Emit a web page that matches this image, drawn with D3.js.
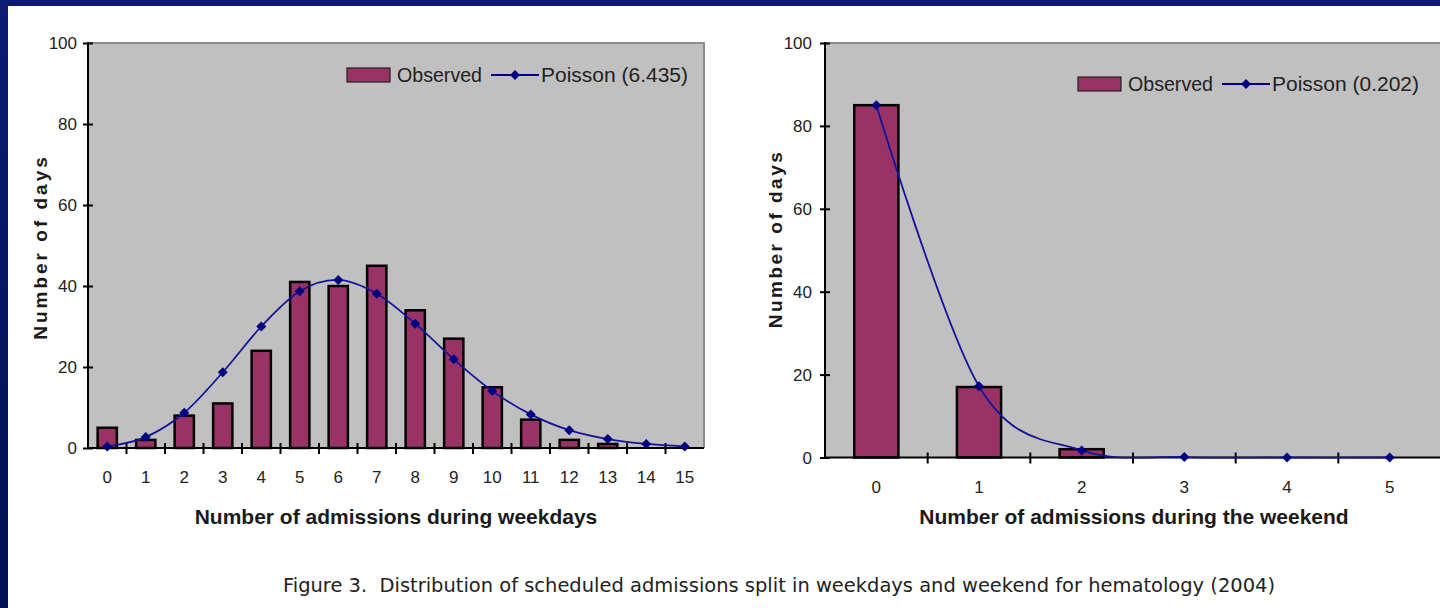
<!DOCTYPE html>
<html>
<head>
<meta charset="utf-8">
<script src="https://cdn.jsdelivr.net/npm/d3@7/dist/d3.min.js"></script>
<style>
  html, body { margin: 0; padding: 0; background: #ffffff; }
  svg { display: block; }
  text { font-family: "Liberation Sans", Arial, sans-serif; }
  text.caption { font-family: "DejaVu Sans", Verdana, sans-serif; white-space: pre; }
</style>
</head>
<body>
<svg id="chart" width="1440" height="608"></svg>
<script>
// Admissions per day: weekdays (0..15) and weekend (0..5)
const weekdayCounts   = [0, 1, 2, 3, 4, 5, 6, 7, 8, 9, 10, 11, 12, 13, 14, 15];
const weekdayObserved = [5, 2, 8, 11, 24, 41, 40, 45, 34, 27, 15, 7, 2, 1, 0, 0];
const weekdayPoisson  = [0.4, 2.7, 8.7, 18.7, 30.0, 38.7, 41.5, 38.1, 30.7, 21.9, 14.1, 8.3, 4.4, 2.2, 1.0, 0.4];

const weekendCounts   = [0, 1, 2, 3, 4, 5];
const weekendObserved = [85, 17, 2, 0, 0, 0];
const weekendPoisson  = [85.0, 17.2, 1.7, 0.1, 0.0, 0.0];

const yTicks = [0, 20, 40, 60, 80, 100];

const svg = d3.select("#chart");

// Navy slide frame
const grad = svg.append("defs").append("linearGradient")
  .attr("id", "frame").attr("x1", 0).attr("y1", 0).attr("x2", 0).attr("y2", 1);
grad.append("stop").attr("offset", "0%").attr("stop-color", "#0c1b74");
grad.append("stop").attr("offset", "100%").attr("stop-color", "#001050");
svg.append("rect").attr("x", 0).attr("y", 0).attr("width", 1440).attr("height", 6).attr("fill", "#0c1b74");
svg.append("rect").attr("x", 0).attr("y", 0).attr("width", 8).attr("height", 608).attr("fill", "url(#frame)");

function drawPanel(cfg) {
  const g = svg.append("g");
  const x = d3.scaleBand().domain(cfg.categories).range([cfg.left, cfg.right]).padding(0);
  const y = d3.scaleLinear().domain([0, 100]).range([cfg.bottom, cfg.top]);
  const plotRight = Math.min(cfg.right, 1440);

  // plot area
  g.append("rect")
    .attr("x", cfg.left).attr("y", cfg.top)
    .attr("width", plotRight - cfg.left).attr("height", cfg.bottom - cfg.top)
    .attr("fill", "#c0c0c0");
  g.append("path")
    .attr("d", `M${cfg.left},${cfg.top}H${plotRight}` + (cfg.right <= 1440 ? `V${cfg.bottom}` : ""))
    .attr("fill", "none").attr("stroke", "#8c8c8c").attr("stroke-width", 2);

  // observed bars
  const bw = x.bandwidth() * cfg.barFrac;
  g.selectAll("rect.bar").data(cfg.observed).join("rect")
    .attr("class", "bar")
    .attr("x", (d, i) => x(cfg.categories[i]) + (x.bandwidth() - bw) / 2)
    .attr("y", d => y(d))
    .attr("width", bw)
    .attr("height", d => y(0) - y(d))
    .attr("fill", "#993366")
    .attr("stroke", "#000").attr("stroke-width", 2.5);

  // y axis
  const yAxis = d3.axisLeft(y).tickValues(yTicks).tickSize(0).tickPadding(0);
  const ya = g.append("g").attr("transform", `translate(${cfg.left},0)`).call(yAxis);
  ya.select(".domain").remove();
  ya.selectAll(".tick text")
    .attr("x", -(cfg.left - cfg.yLabelRight))
    .attr("dy", "0.35em")
    .attr("font-size", 17).attr("fill", "#222");
  ya.selectAll(".tick").append("line")
    .attr("x1", -5).attr("x2", 5).attr("stroke", "#000").attr("stroke-width", 2);
  g.append("line")
    .attr("x1", cfg.left).attr("x2", cfg.left).attr("y1", cfg.top - 1).attr("y2", cfg.bottom + 1)
    .attr("stroke", "#000").attr("stroke-width", 2);

  // x axis
  const xAxis = d3.axisBottom(x).tickSize(0).tickPadding(0);
  const xa = g.append("g").attr("transform", `translate(0,${cfg.bottom})`).call(xAxis);
  xa.select(".domain").remove();
  xa.selectAll(".tick text")
    .attr("y", cfg.xLabelDy).attr("dy", "0.35em")
    .attr("font-size", 17).attr("fill", "#222");
  g.append("line")
    .attr("x1", cfg.left).attr("x2", plotRight).attr("y1", cfg.bottom).attr("y2", cfg.bottom)
    .attr("stroke", "#000").attr("stroke-width", 2);
  g.selectAll("line.xtick").data(cfg.categories.slice(1)).join("line")
    .attr("class", "xtick")
    .attr("x1", d => x(d)).attr("x2", d => x(d))
    .attr("y1", cfg.bottom - 5).attr("y2", cfg.bottom + 6)
    .attr("stroke", "#000").attr("stroke-width", 2);

  // Poisson fit: smoothed line with diamond markers
  const pts = cfg.poisson.map((v, i) => [x(cfg.categories[i]) + x.bandwidth() / 2, y(v)]);
  g.append("path")
    .attr("d", d3.line().curve(d3.curveCardinal.tension(0))(pts))
    .attr("fill", "none").attr("stroke", "#14149a").attr("stroke-width", 1.8);
  const diamond = d3.symbol().type(d3.symbolSquare).size(50)();
  g.selectAll("path.mk").data(pts).join("path")
    .attr("class", "mk")
    .attr("d", diamond)
    .attr("transform", d => `translate(${d[0]},${d[1]}) rotate(45)`)
    .attr("fill", "#000080");

  // axis titles
  g.append("text")
    .attr("x", cfg.xTitleX).attr("y", cfg.xTitleY)
    .attr("text-anchor", "middle")
    .attr("font-size", 21).attr("font-weight", "bold").attr("fill", "#1a1a1a")
    .text(cfg.xTitle);
  g.append("text")
    .attr("transform", `translate(${cfg.yTitleX},${cfg.yTitleY}) rotate(-90)`)
    .attr("text-anchor", "middle")
    .attr("font-size", 19).attr("font-weight", "bold").attr("fill", "#1a1a1a")
    .attr("letter-spacing", cfg.yTitleSpacing)
    .text("Number of days");

  // legend
  const L = cfg.legend;
  g.append("rect")
    .attr("x", L.x).attr("y", L.y - 7).attr("width", 43).attr("height", 14)
    .attr("fill", "#993366").attr("stroke", "#222").attr("stroke-width", 1.2);
  g.append("text")
    .attr("x", L.x + 50).attr("y", L.y).attr("dy", "0.35em")
    .attr("font-size", 20).attr("fill", "#222")
    .attr("textLength", 85).attr("lengthAdjust", "spacingAndGlyphs")
    .text("Observed");
  g.append("line")
    .attr("x1", L.lineX).attr("x2", L.lineX + 48).attr("y1", L.y).attr("y2", L.y)
    .attr("stroke", "#000080").attr("stroke-width", 2.2);
  g.append("path")
    .attr("d", diamond)
    .attr("transform", `translate(${L.lineX + 24},${L.y}) rotate(45)`)
    .attr("fill", "#000080");
  g.append("text")
    .attr("x", L.lineX + 50).attr("y", L.y).attr("dy", "0.35em")
    .attr("font-size", 20).attr("fill", "#222")
    .attr("textLength", 147).attr("lengthAdjust", "spacingAndGlyphs")
    .text(L.label);
}

drawPanel({
  categories: weekdayCounts, observed: weekdayObserved, poisson: weekdayPoisson,
  left: 88, right: 704, top: 43, bottom: 448, barFrac: 0.5,
  yLabelRight: 77, xLabelDy: 29,
  xTitle: "Number of admissions during weekdays", xTitleX: 396, xTitleY: 524,
  yTitleX: 47, yTitleY: 247, yTitleSpacing: 3,
  legend: { x: 347, y: 75, lineX: 491, label: "Poisson (6.435)" }
});

drawPanel({
  categories: weekendCounts, observed: weekendObserved, poisson: weekendPoisson,
  left: 825, right: 1441, top: 43, bottom: 457.5, barFrac: 0.43,
  yLabelRight: 812, xLabelDy: 30,
  xTitle: "Number of admissions during the weekend", xTitleX: 1134, xTitleY: 524,
  yTitleX: 782, yTitleY: 239, yTitleSpacing: 2.5,
  legend: { x: 1078, y: 84, lineX: 1222, label: "Poisson (0.202)" }
});

// figure caption
svg.append("text")
  .attr("class", "caption")
  .attr("x", 283).attr("y", 592)
  .attr("font-size", 19).attr("fill", "#222")
  .attr("textLength", 992).attr("lengthAdjust", "spacingAndGlyphs")
  .text("Figure 3.  Distribution of scheduled admissions split in weekdays and weekend for hematology (2004)");
</script>
</body>
</html>
